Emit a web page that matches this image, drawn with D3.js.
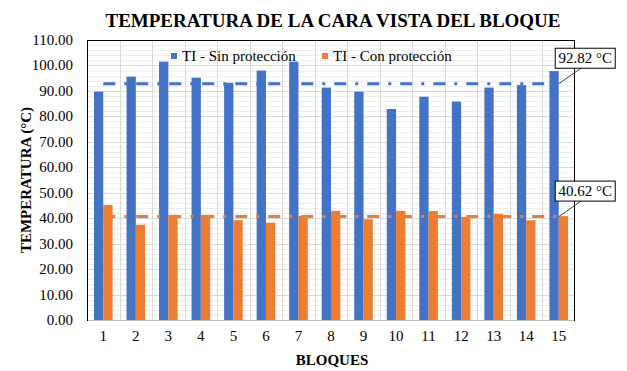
<!DOCTYPE html>
<html>
<head>
<meta charset="utf-8">
<script src="https://cdn.jsdelivr.net/npm/d3@7"></script>
<style>
  body { margin: 0; background: #fff; }
  #chart { width: 627px; height: 371px; }
</style>
</head>
<body>
<div id="chart"></div>
<script>
const bloques = ["1","2","3","4","5","6","7","8","9","10","11","12","13","14","15"];
const sinProteccion = [89.7, 95.6, 101.5, 95.2, 93.2, 98.0, 101.5, 91.3, 89.7, 82.9, 87.7, 85.8, 91.3, 92.3, 97.8];
const conProteccion = [45.2, 37.4, 41.3, 41.3, 39.2, 38.2, 40.9, 42.9, 39.6, 42.9, 42.8, 40.5, 41.7, 39.2, 40.8];
const promedios = [92.82, 40.62];
const etiquetasPromedio = ["92.82 °C", "40.62 °C"];
const yTicks = [0, 10, 20, 30, 40, 50, 60, 70, 80, 90, 100, 110];
const series = ["TI - Sin protección", "TI - Con protección"];

const SERIF = "'Liberation Serif', 'Times New Roman', 'DejaVu Serif', serif";

function draw() {
  const container = document.getElementById("chart");
  container.innerHTML = "";

  const width = 627, height = 371;
  const margin = { top: 40, right: 52, bottom: 51, left: 87 };

  const svg = d3.select("#chart").append("svg")
    .attr("width", width)
    .attr("height", height)
    .attr("font-family", SERIF);

  const dataset = bloques.map((b, i) => ({ bloque: b, valores: [sinProteccion[i], conProteccion[i]] }));

  const x0 = d3.scaleBand()
    .domain(bloques)
    .range([margin.left, width - margin.right])
    .padding(0);

  const x1 = d3.scaleBand()
    .domain([0, 1])
    .range([0, x0.bandwidth()])
    .paddingInner(0)
    .paddingOuter(0.75);

  const y = d3.scaleLinear()
    .domain([0, 110])
    .range([height - margin.bottom, margin.top]);

  const color = d3.scaleOrdinal().domain([0, 1]).range(["#4472C4", "#ED7D31"]);

  const left = margin.left, right = width - margin.right;

  // gridlines menores
  svg.append("g").selectAll("line")
    .data(d3.range(0, 111, 2).filter(v => v % 10 !== 0))
    .enter().append("line")
    .attr("x1", left).attr("x2", right)
    .attr("y1", d => Math.round(y(d)) + 0.5).attr("y2", d => Math.round(y(d)) + 0.5)
    .attr("stroke", "#efefef").attr("stroke-width", 1);

  // gridlines principales
  svg.append("g").selectAll("line")
    .data(yTicks)
    .enter().append("line")
    .attr("x1", left).attr("x2", right)
    .attr("y1", d => Math.round(y(d)) + 0.5).attr("y2", d => Math.round(y(d)) + 0.5)
    .attr("stroke", "#d9d9d9").attr("stroke-width", 1);

  svg.append("g").selectAll("line")
    .data(bloques.slice(1))
    .enter().append("line")
    .attr("x1", d => Math.round(x0(d)) + 0.5).attr("x2", d => Math.round(x0(d)) + 0.5)
    .attr("y1", y(110)).attr("y2", y(0))
    .attr("stroke", "#d9d9d9").attr("stroke-width", 1);

  // barras
  const groups = svg.selectAll("g.bloque")
    .data(dataset)
    .enter().append("g")
    .attr("class", "bloque")
    .attr("transform", d => `translate(${x0(d.bloque)},0)`);

  groups.selectAll("rect")
    .data(d => d.valores.map((v, k) => ({ k, v })))
    .enter().append("rect")
    .attr("x", d => x1(d.k))
    .attr("y", d => y(d.v))
    .attr("width", x1.bandwidth())
    .attr("height", d => y(0) - y(d.v))
    .attr("fill", d => color(d.k));

  // marco del area de trazado
  svg.append("rect")
    .attr("x", left + 0.5).attr("y", margin.top + 0.5)
    .attr("width", right - left - 1).attr("height", y(0) - margin.top)
    .attr("fill", "none").attr("stroke", "#000").attr("stroke-width", 1);
  svg.append("line")
    .attr("x1", left + 1).attr("x2", right - 1)
    .attr("y1", Math.round(y(0)) + 0.5).attr("y2", Math.round(y(0)) + 0.5)
    .attr("stroke", "#bfbfbf");

  // lineas de promedio
  const xFirst = x0(bloques[0]) + x0.bandwidth() / 2;
  const xLast = x0(bloques[bloques.length - 1]) + x0.bandwidth() / 2;
  promedios.forEach((p, k) => {
    svg.append("line")
      .attr("x1", xFirst).attr("x2", xLast)
      .attr("y1", y(p)).attr("y2", y(p))
      .attr("stroke", color(k))
      .attr("stroke-width", 3)
      .attr("stroke-dasharray", "12,9,3,9");
  });

  // etiquetas de promedio
  promedios.forEach((p, k) => {
    const py = y(p);
    const bx = xLast - 4, bw = 60, bh = 20;
    const by = py - 16 - bh;
    svg.append("line")
      .attr("x1", bx + 27).attr("y1", by + bh)
      .attr("x2", xLast).attr("y2", py)
      .attr("stroke", "#404040").attr("stroke-width", 1);
    svg.append("rect")
      .attr("x", bx + 0.5).attr("y", by + 0.5)
      .attr("width", bw).attr("height", bh)
      .attr("fill", "#fff").attr("stroke", "#000");
    svg.append("text")
      .attr("x", bx + bw / 2 + 0.5).attr("y", by + 15)
      .attr("text-anchor", "middle")
      .style("font-size", "15px")
      .text(etiquetasPromedio[k]);
  });

  // eje Y
  svg.append("g").selectAll("text")
    .data(yTicks)
    .enter().append("text")
    .attr("x", 73)
    .attr("y", d => y(d) + 5)
    .attr("text-anchor", "end")
    .style("font-size", "15px")
    .text(d => d3.format(".2f")(d));

  // eje X
  svg.append("g").selectAll("text")
    .data(bloques)
    .enter().append("text")
    .attr("x", d => x0(d) + x0.bandwidth() / 2)
    .attr("y", 341)
    .attr("text-anchor", "middle")
    .style("font-size", "15px")
    .text(d => d);

  // titulos
  svg.append("text")
    .attr("x", 333).attr("y", 27)
    .attr("text-anchor", "middle")
    .style("font-size", "19px").style("font-weight", "bold")
    .text("TEMPERATURA DE LA CARA VISTA DEL BLOQUE");

  svg.append("text")
    .attr("x", 332).attr("y", 365)
    .attr("text-anchor", "middle")
    .style("font-size", "15px").style("font-weight", "bold")
    .text("BLOQUES");

  svg.append("text")
    .attr("transform", `translate(31,${(y(0) + y(110)) / 2}) rotate(-90)`)
    .attr("text-anchor", "middle")
    .style("font-size", "15px").style("font-weight", "bold")
    .text("TEMPERATURA (°C)");

  // leyenda
  const legendX = [171, 322];
  series.forEach((s, k) => {
    svg.append("rect")
      .attr("x", legendX[k]).attr("y", 53)
      .attr("width", 6).attr("height", 6)
      .attr("fill", color(k));
    svg.append("text")
      .attr("x", legendX[k] + 11).attr("y", 61)
      .style("font-size", "15px")
      .text(s);
  });
}

draw();
</script>
</body>
</html>
